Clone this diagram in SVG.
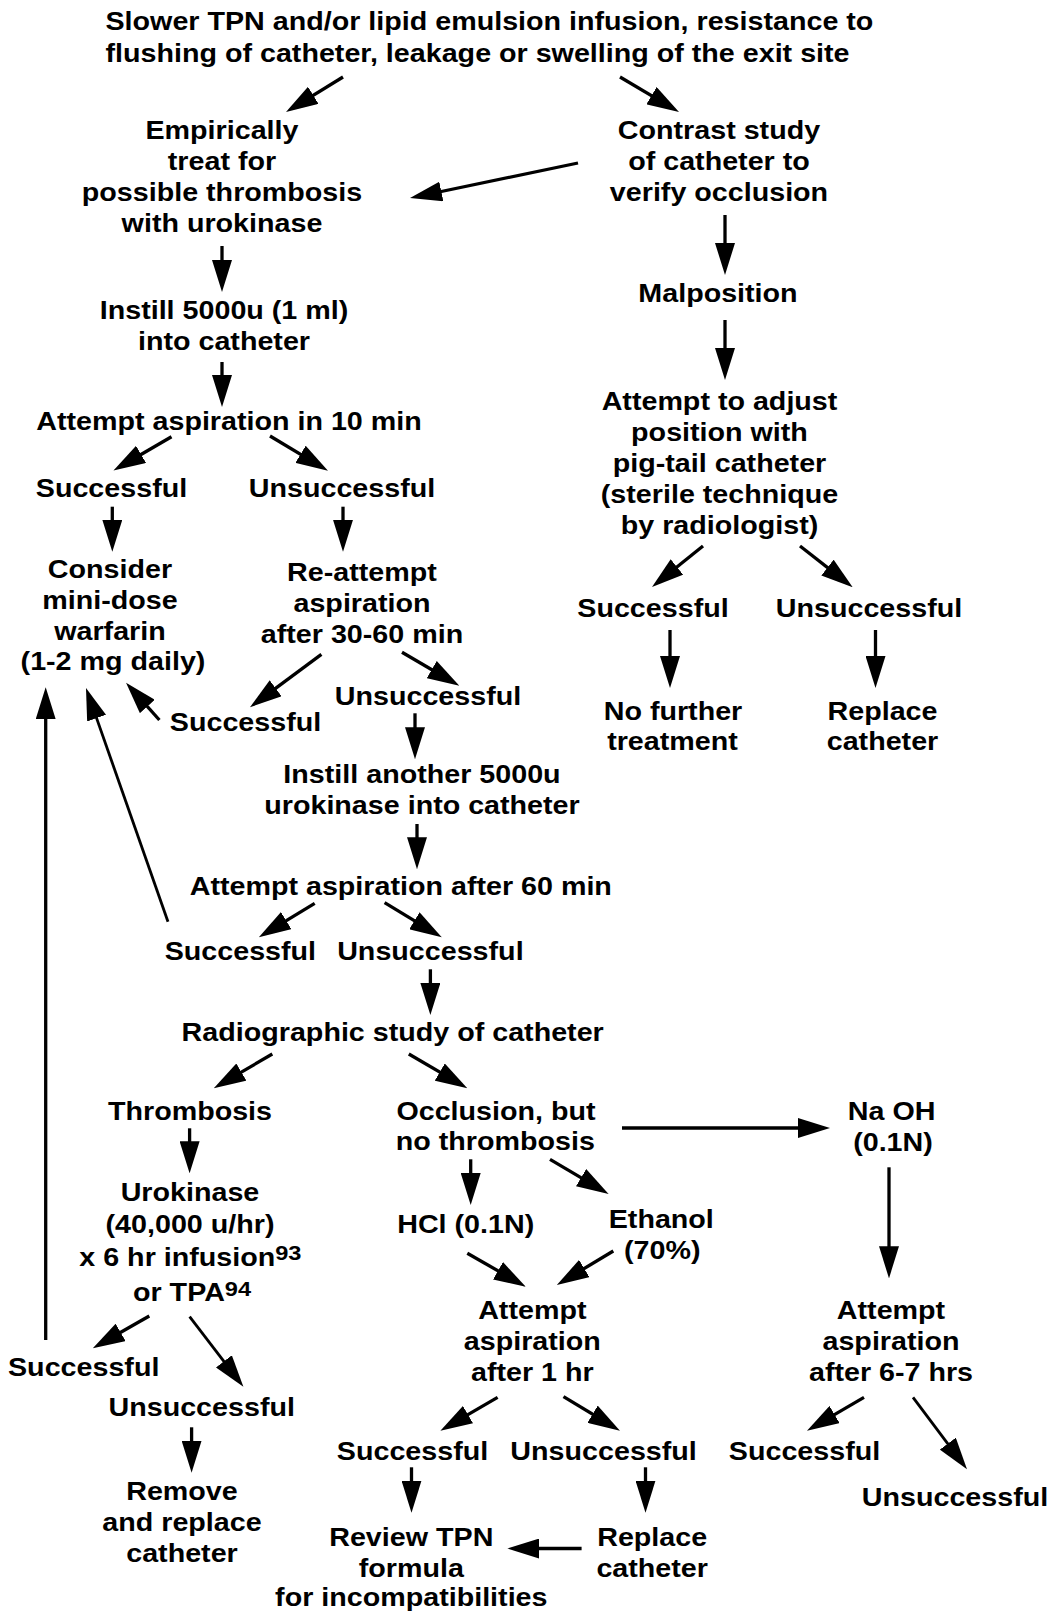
<svg xmlns="http://www.w3.org/2000/svg" width="1049" height="1612" viewBox="0 0 1049 1612">
<style>
text{font-family:"Liberation Sans",Arial,Helvetica,sans-serif;font-weight:bold;font-size:25.5px;fill:#000;text-anchor:middle}
text.l{text-anchor:start}
.sup{font-size:21px}
#connectors line{stroke:#000;stroke-width:3.3;marker-end:url(#ah)}
#connectors line.thin{stroke-width:2.8}
</style>
<defs>
<marker id="ah" markerUnits="userSpaceOnUse" markerWidth="32" markerHeight="20" refX="22" refY="10" orient="auto">
<path d="M0,0 L32,10 L0,20 Z" fill="#000"/>
</marker>
</defs>
<rect width="1049" height="1612" fill="#fff"/>

<g id="n-top" transform="scale(1.125 1)">
<text class="l" x="93.78" y="30.5">Slower TPN and/or lipid emulsion infusion, resistance to</text>
<text class="l" x="93.78" y="62">flushing of catheter, leakage or swelling of the exit site</text>
</g>
<g id="n-empiric" transform="scale(1.125 1)">
<text x="197.33" y="139.5">Empirically</text>
<text x="197.33" y="170.5">treat for</text>
<text x="197.33" y="201.5">possible thrombosis</text>
<text x="197.33" y="232.5">with urokinase</text>
</g>
<g id="n-contrast" transform="scale(1.125 1)">
<text x="639.11" y="139.5">Contrast study</text>
<text x="639.11" y="170.5">of catheter to</text>
<text x="639.11" y="201.5">verify occlusion</text>
</g>
<g id="n-malposition" transform="scale(1.125 1)">
<text x="638.22" y="302">Malposition</text>
</g>
<g id="n-instill" transform="scale(1.125 1)">
<text x="199.11" y="319.5">Instill 5000u (1 ml)</text>
<text x="199.11" y="350">into catheter</text>
</g>
<g id="n-attempt10" transform="scale(1.125 1)">
<text x="203.56" y="430.5">Attempt aspiration in 10 min</text>
</g>
<g id="n-succ1" transform="scale(1.125 1)">
<text x="99.11" y="497">Successful</text>
</g>
<g id="n-unsucc1" transform="scale(1.125 1)">
<text x="304" y="497">Unsuccessful</text>
</g>
<g id="n-warfarin" transform="scale(1.125 1)">
<text x="97.78" y="578">Consider</text>
<text x="97.78" y="609">mini-dose</text>
<text x="97.78" y="640">warfarin</text>
<text x="100.44" y="670.5">(1-2 mg daily)</text>
</g>
<g id="n-reattempt" transform="scale(1.125 1)">
<text x="321.78" y="581.5">Re-attempt</text>
<text x="321.78" y="612.5">aspiration</text>
<text x="321.78" y="643.5">after 30-60 min</text>
</g>
<g id="n-adjust" transform="scale(1.125 1)">
<text x="639.56" y="410">Attempt to adjust</text>
<text x="639.56" y="441.5">position with</text>
<text x="639.56" y="472.5">pig-tail catheter</text>
<text x="639.56" y="503">(sterile technique</text>
<text x="639.56" y="534">by radiologist)</text>
</g>
<g id="n-succ-adj" transform="scale(1.125 1)">
<text x="580.44" y="617.5">Successful</text>
</g>
<g id="n-unsucc-adj" transform="scale(1.125 1)">
<text x="772.44" y="617.5">Unsuccessful</text>
</g>
<g id="n-nofurther" transform="scale(1.125 1)">
<text x="598.22" y="720">No further</text>
<text x="597.78" y="750.5">treatment</text>
</g>
<g id="n-replace1" transform="scale(1.125 1)">
<text x="784.44" y="720">Replace</text>
<text x="784.44" y="750.5">catheter</text>
</g>
<g id="n-unsucc2" transform="scale(1.125 1)">
<text x="380.44" y="705.5">Unsuccessful</text>
</g>
<g id="n-succ2" transform="scale(1.125 1)">
<text x="218.22" y="731.5">Successful</text>
</g>
<g id="n-instill2" transform="scale(1.125 1)">
<text x="375.11" y="783.5">Instill another 5000u</text>
<text x="375.11" y="814">urokinase into catheter</text>
</g>
<g id="n-attempt60" transform="scale(1.125 1)">
<text x="356.27" y="895">Attempt aspiration after 60 min</text>
</g>
<g id="n-succ3" transform="scale(1.125 1)">
<text x="213.69" y="960">Successful</text>
</g>
<g id="n-unsucc3" transform="scale(1.125 1)">
<text x="382.58" y="960">Unsuccessful</text>
</g>
<g id="n-radio" transform="scale(1.125 1)">
<text x="349.07" y="1041.5">Radiographic study of catheter</text>
</g>
<g id="n-thrombosis" transform="scale(1.125 1)">
<text x="168.89" y="1120">Thrombosis</text>
</g>
<g id="n-occlusion" transform="scale(1.125 1)">
<text x="440.89" y="1120">Occlusion, but</text>
<text x="440.27" y="1150.5">no thrombosis</text>
</g>
<g id="n-naoh" transform="scale(1.125 1)">
<text x="792.53" y="1120">Na OH</text>
<text x="793.78" y="1151">(0.1N)</text>
</g>
<g id="n-urokinase" transform="scale(1.125 1)">
<text x="168.89" y="1201.5">Urokinase</text>
<text x="168.89" y="1233">(40,000 u/hr)</text>
<text class="l" x="70.49" y="1266">x 6 hr infusion<tspan class="sup" dy="-6">93</tspan></text>
<text class="l" x="118.22" y="1301">or TPA<tspan class="sup" dy="-4.5">94</tspan></text>
</g>
<g id="n-hcl" transform="scale(1.125 1)">
<text x="413.96" y="1233">HCl (0.1N)</text>
</g>
<g id="n-ethanol" transform="scale(1.125 1)">
<text x="587.82" y="1228.5">Ethanol</text>
<text x="588.71" y="1259">(70%)</text>
</g>
<g id="n-attempt1hr" transform="scale(1.125 1)">
<text x="473.16" y="1319">Attempt</text>
<text x="473.16" y="1350.5">aspiration</text>
<text x="473.16" y="1381.5">after 1 hr</text>
</g>
<g id="n-attempt67" transform="scale(1.125 1)">
<text x="792" y="1319">Attempt</text>
<text x="792" y="1350.5">aspiration</text>
<text x="792" y="1381.5">after 6-7 hrs</text>
</g>
<g id="n-succ4" transform="scale(1.125 1)">
<text x="74.4" y="1376.5">Successful</text>
</g>
<g id="n-unsucc4" transform="scale(1.125 1)">
<text x="179.29" y="1416">Unsuccessful</text>
</g>
<g id="n-remove" transform="scale(1.125 1)">
<text x="161.78" y="1500">Remove</text>
<text x="161.78" y="1531.5">and replace</text>
<text x="161.78" y="1562.5">catheter</text>
</g>
<g id="n-succ5" transform="scale(1.125 1)">
<text x="366.67" y="1460">Successful</text>
</g>
<g id="n-unsucc5" transform="scale(1.125 1)">
<text x="536.53" y="1460">Unsuccessful</text>
</g>
<g id="n-succ6" transform="scale(1.125 1)">
<text x="715.11" y="1460">Successful</text>
</g>
<g id="n-unsucc6" transform="scale(1.125 1)">
<text x="848.89" y="1506">Unsuccessful</text>
</g>
<g id="n-review" transform="scale(1.125 1)">
<text x="365.6" y="1546.5">Review TPN</text>
<text x="365.6" y="1577">formula</text>
<text x="365.6" y="1606">for incompatibilities</text>
</g>
<g id="n-replace2" transform="scale(1.125 1)">
<text x="579.73" y="1546.5">Replace</text>
<text x="579.73" y="1577">catheter</text>
</g>

<g id="connectors">
<line x1="343" y1="77" x2="294.5" y2="106.8"/>
<line x1="620" y1="77" x2="670.4" y2="106.9"/>
<line x1="578" y1="163" x2="419.8" y2="196"/>
<line x1="222" y1="246" x2="222" y2="282"/>
<line x1="725" y1="215" x2="725" y2="265"/>
<line x1="222" y1="362" x2="222" y2="397"/>
<line x1="725" y1="320" x2="725" y2="370"/>
<line x1="171.5" y1="436.7" x2="122.1" y2="465.5"/>
<line x1="270" y1="436" x2="319.4" y2="465.6"/>
<line x1="112.3" y1="506.7" x2="112.3" y2="541.7"/>
<line x1="343" y1="506.7" x2="343" y2="541.7"/>
<line x1="703" y1="546" x2="659.8" y2="580.7"/>
<line x1="800" y1="546" x2="844.8" y2="581.1"/>
<line x1="670" y1="630" x2="670" y2="678"/>
<line x1="875.5" y1="630" x2="875.5" y2="678"/>
<line x1="321.4" y1="654.3" x2="258" y2="701.3"/>
<line x1="402" y1="652.3" x2="450.7" y2="680.7"/>
<line x1="159.4" y1="720" x2="132.7" y2="690.1"/>
<line x1="415" y1="713.3" x2="415" y2="749.3"/>
<line x1="417" y1="824" x2="417" y2="859.3"/>
<line x1="314.7" y1="903.3" x2="267.4" y2="932.1"/>
<line x1="384.6" y1="902.7" x2="433.2" y2="932.1"/>
<line class="thin" x1="168" y1="921.7" x2="89.3" y2="697.4"/>
<line x1="430.4" y1="969.3" x2="430.4" y2="1005"/>
<line x1="272.3" y1="1054" x2="222.4" y2="1083.2"/>
<line x1="408.8" y1="1054" x2="458.7" y2="1083.2"/>
<line x1="622" y1="1128" x2="820" y2="1128"/>
<line x1="189.6" y1="1128.3" x2="189.6" y2="1163.3"/>
<line x1="470.7" y1="1159.3" x2="470.7" y2="1195"/>
<line x1="550" y1="1159.3" x2="600" y2="1188.9"/>
<line x1="889" y1="1167.3" x2="889" y2="1268.3"/>
<line x1="467.3" y1="1253.3" x2="517.1" y2="1281.7"/>
<line x1="613.3" y1="1251" x2="565.4" y2="1279.8"/>
<line x1="149.3" y1="1316" x2="101.5" y2="1343.3"/>
<line class="thin" x1="189.6" y1="1316.7" x2="237.3" y2="1378.8"/>
<line x1="45.7" y1="1340" x2="45.7" y2="697.3"/>
<line x1="191.6" y1="1427.3" x2="191.6" y2="1462.7"/>
<line x1="497.6" y1="1397.3" x2="449" y2="1425.7"/>
<line x1="563.5" y1="1396.7" x2="611.4" y2="1425.5"/>
<line x1="864" y1="1397.3" x2="815.6" y2="1425.7"/>
<line class="thin" x1="913" y1="1397.3" x2="961" y2="1461.3"/>
<line x1="411.5" y1="1467.3" x2="411.5" y2="1502.7"/>
<line x1="645.5" y1="1467.3" x2="645.5" y2="1502.7"/>
<line x1="581.6" y1="1548.5" x2="517.3" y2="1548.5"/>
</g>
</svg>
